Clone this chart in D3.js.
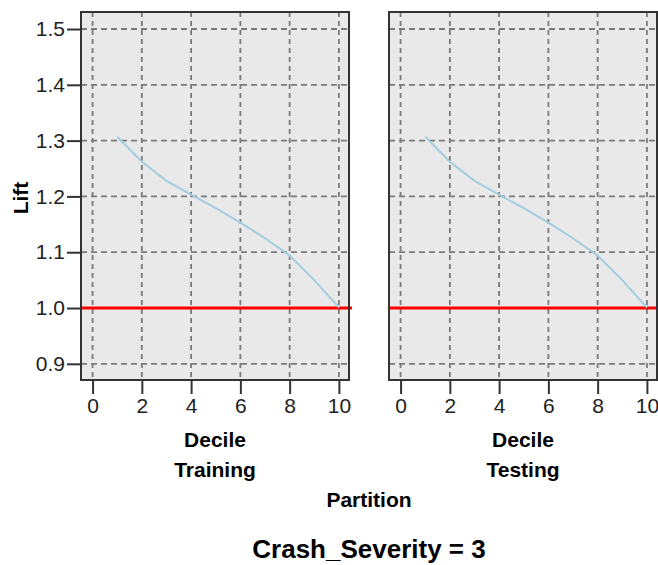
<!DOCTYPE html>
<html>
<head>
<meta charset="utf-8">
<script src="https://cdn.jsdelivr.net/npm/d3@7"></script>
<style>
  body { margin: 0; background: #fff; }
  svg { display: block; font-family: Arial, "Liberation Sans", sans-serif; }
</style>
</head>
<body>
<svg id="canvas"></svg>
<script>
// lift by decile, one chart per partition
let deciles = [1, 2, 3, 4, 5, 6, 7, 8, 9, 10]
let partitions = ['Training', 'Testing']
let liftTraining = [1.307, 1.262, 1.228, 1.203, 1.179, 1.153, 1.125, 1.094, 1.050, 1.001]
let liftTesting = [1.307, 1.262, 1.228, 1.203, 1.179, 1.153, 1.125, 1.094, 1.050, 1.001]
let baseline = 1.0
let xTicks = [0, 2, 4, 6, 8, 10]
let yTicks = [0.9, 1.0, 1.1, 1.2, 1.3, 1.4, 1.5]
let title = 'Crash_Severity = 3'

//dimensions
let width = 658
let height = 565
let panelTop = 12
let panelBottom = 380
let panelWidth = 268
let panelLefts = [81, 389]

let canvas = d3.select('#canvas')
                .attr('width', width)
                .attr('height', height)

let xScale = d3.scaleLinear()
                .domain([-0.47, 10.41])
                .range([0, panelWidth])

let yScale = d3.scaleLinear()
                .domain([0.871, 1.5305])
                .range([panelBottom, panelTop])

let drawPanel = (i) => {
    let series = i === 0 ? liftTraining : liftTesting
    let left = panelLefts[i]

    let panel = canvas.append('g')
                    .attr('transform', 'translate(' + left + ', 0)')

    panel.append('rect')
            .attr('x', 0)
            .attr('y', panelTop)
            .attr('width', panelWidth)
            .attr('height', panelBottom - panelTop)
            .attr('fill', '#e9e9e9')

    // dashed grid
    panel.selectAll('.gridx')
            .data(xTicks)
            .enter()
            .append('line')
            .attr('x1', (d) => xScale(d))
            .attr('x2', (d) => xScale(d))
            .attr('y1', panelTop)
            .attr('y2', panelBottom)
            .attr('stroke', '#7a7a7a')
            .attr('stroke-width', 1.8)
            .attr('stroke-dasharray', '5,4')

    panel.selectAll('.gridy')
            .data(yTicks)
            .enter()
            .append('line')
            .attr('x1', 0)
            .attr('x2', panelWidth)
            .attr('y1', (d) => yScale(d))
            .attr('y2', (d) => yScale(d))
            .attr('stroke', '#7a7a7a')
            .attr('stroke-width', 1.8)
            .attr('stroke-dasharray', '6,4')

    // reference line at lift = 1
    panel.append('line')
            .attr('x1', 0)
            .attr('x2', panelWidth + 3)
            .attr('y1', yScale(baseline))
            .attr('y2', yScale(baseline))
            .attr('stroke', '#ff0000')
            .attr('stroke-width', 3)

    let line = d3.line()
                    .x((d, j) => xScale(deciles[j]))
                    .y((d) => yScale(d))

    panel.append('path')
            .datum(series)
            .attr('d', line)
            .attr('fill', 'none')
            .attr('stroke', '#a3cde0')
            .attr('stroke-width', 2)

    panel.append('rect')
            .attr('x', 0)
            .attr('y', panelTop)
            .attr('width', panelWidth)
            .attr('height', panelBottom - panelTop)
            .attr('fill', 'none')
            .attr('stroke', '#333')
            .attr('stroke-width', 2)

    let xAxis = panel.append('g')
                    .attr('transform', 'translate(0, ' + panelBottom + ')')
                    .call(d3.axisBottom(xScale).tickValues(xTicks).tickSize(14).tickPadding(4))
    xAxis.select('.domain').remove()
    xAxis.selectAll('line').attr('stroke', '#333').attr('stroke-width', 2)
    xAxis.selectAll('text')
            .attr('fill', '#222')
            .style('font-size', '21px')

    if (i === 0) {
        let yAxis = panel.append('g')
                        .call(d3.axisLeft(yScale).tickValues(yTicks).tickSize(14).tickPadding(2)
                                .tickFormat(d3.format('.1f')))
        yAxis.select('.domain').remove()
        yAxis.selectAll('line').attr('stroke', '#333').attr('stroke-width', 2)
        yAxis.selectAll('text')
                .attr('fill', '#222')
                .style('font-size', '21px')
    }

    panel.append('text')
            .attr('x', panelWidth / 2)
            .attr('y', 447)
            .attr('text-anchor', 'middle')
            .style('font-size', '21px')
            .style('font-weight', 'bold')
            .text('Decile')

    panel.append('text')
            .attr('x', panelWidth / 2)
            .attr('y', 477)
            .attr('text-anchor', 'middle')
            .style('font-size', '21px')
            .style('font-weight', 'bold')
            .text(partitions[i])
}

partitions.forEach((p, i) => drawPanel(i))

canvas.append('text')
        .attr('transform', 'translate(28, 198) rotate(-90)')
        .attr('text-anchor', 'middle')
        .style('font-size', '21px')
        .style('font-weight', 'bold')
        .text('Lift')

canvas.append('text')
        .attr('x', (panelLefts[0] + panelLefts[1] + panelWidth) / 2)
        .attr('y', 507)
        .attr('text-anchor', 'middle')
        .style('font-size', '21px')
        .style('font-weight', 'bold')
        .text('Partition')

canvas.append('text')
        .attr('x', (panelLefts[0] + panelLefts[1] + panelWidth) / 2)
        .attr('y', 558)
        .attr('text-anchor', 'middle')
        .style('font-size', '26px')
        .style('font-weight', 'bold')
        .text(title)
</script>
</body>
</html>
